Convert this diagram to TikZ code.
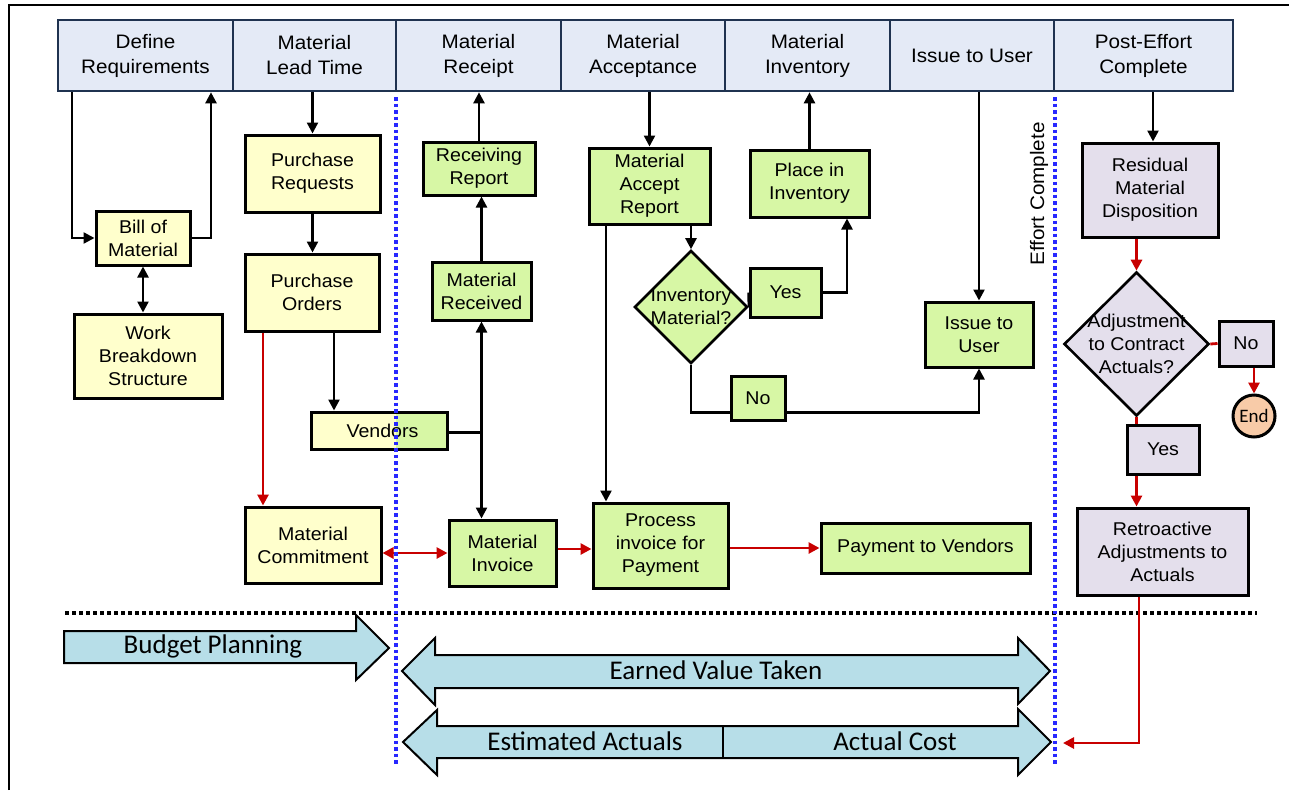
\documentclass[tikz,border=0pt]{standalone}
\usepackage{fontspec}
\setmainfont{Liberation Sans}[FakeStretch=1.06]
\newfontfamily\calib{Carlito}
\usetikzlibrary{arrows.meta,shapes.geometric,calc}

\definecolor{hdrfill}{RGB}{228,234,246}
\definecolor{hdrline}{RGB}{31,50,80}
\definecolor{yfill}{RGB}{255,255,204}
\definecolor{gfill}{RGB}{215,247,165}
\definecolor{pfill}{RGB}{228,223,236}
\definecolor{afill}{RGB}{183,222,232}
\definecolor{endfill}{RGB}{248,203,168}
\definecolor{flowred}{RGB}{200,0,0}
\definecolor{sepblue}{RGB}{40,40,255}

\begin{document}
\begin{tikzpicture}[x=1pt,y=-1pt,
  hdr/.style={draw=hdrline, fill=hdrfill, line width=2.6pt, minimum height=71pt,
    align=center, inner sep=0pt, font=\fontsize{19.5}{25}\selectfont},
  box/.style={draw, line width=3pt, align=center, inner sep=0pt,
    font=\fontsize{18.5}{23}\selectfont},
  ybox/.style={box, fill=yfill},
  gbox/.style={box, fill=gfill},
  pbox/.style={box, fill=pfill},
  decision/.style={diamond, draw, line width=2.6pt, inner sep=0pt},
  dtext/.style={align=center, font=\fontsize{18.5}{23}\selectfont},
  conn/.style={line width=2.4pt, -{Triangle[length=11pt,width=11pt]}},
  both/.style={line width=2.4pt, {Triangle[length=11pt,width=11pt]}-{Triangle[length=11pt,width=11pt]}},
  link/.style={line width=2.4pt},
  rconn/.style={conn, draw=flowred, line width=2.8pt},
  rboth/.style={both, draw=flowred, line width=2.8pt},
  rlink/.style={link, draw=flowred, line width=2.8pt},
  bigarrow/.style={draw, fill=afill, line width=2pt, line join=miter},
  bigtext/.style={font=\calib\fontsize{27}{30}\selectfont},
  phase/.style={sepblue, line width=3.6pt, dash pattern=on 3.5pt off 3pt},
  split/.style={black, line width=3.4pt, dash pattern=on 3.5pt off 3.5pt}
]
\useasboundingbox (0,0) rectangle (1289,790);

% outer frame
\draw[line width=2.6pt] (9,790) -- (9,5) -- (1289,5);

% phase headers
\node[hdr, minimum width=175pt] (hdr1) at (145.5,55.5) {Define\\Requirements};
\node[hdr, minimum width=163pt] (hdr2) at (314.5,55.5) {Material\\Lead Time};
\node[hdr, minimum width=165pt] (hdr3) at (478.5,55.5) {Material\\Receipt};
\node[hdr, minimum width=164pt] (hdr4) at (643,55.5) {Material\\Acceptance};
\node[hdr, minimum width=165pt] (hdr5) at (807.5,55.5) {Material\\Inventory};
\node[hdr, minimum width=164pt] (hdr6) at (972,55.5) {Issue to User};
\node[hdr, minimum width=179pt] (hdr7) at (1143.5,55.5) {Post-Effort\\Complete};

% planning boxes
\node[ybox, minimum width=94pt, minimum height=54pt] (bom) at (143,238) {Bill of\\Material};
\node[ybox, minimum width=148pt, minimum height=84pt] (wbs) at (148,356) {Work\\Breakdown\\Structure};
\node[ybox, minimum width=135pt, minimum height=77pt] (preq) at (312.5,173.5) {Purchase\\Requests};
\node[ybox, minimum width=134pt, minimum height=77pt] (pord) at (312,292.5) {Purchase\\Orders};
\node[box, minimum width=136pt, minimum height=37pt, fill=yfill,
  path picture={\fill[gfill] ($(path picture bounding box.north west)!0.625!(path picture bounding box.north east)$)
    rectangle (path picture bounding box.south east);}] (vend) at (379,430.5) {\hspace{7pt}Vendors};
\node[ybox, minimum width=136pt, minimum height=76pt] (mcom) at (313,545) {Material\\Commitment};

% receipt and acceptance
\node[gbox, minimum width=112pt, minimum height=53pt] (rrep) at (479,168.5) {Receiving\\Report};
\node[gbox, minimum width=99pt, minimum height=58pt] (mrec) at (481.5,291) {Material\\Received};
\node[gbox, minimum width=107pt, minimum height=66pt] (minv) at (502.5,553) {Material\\Invoice};
\node[gbox, minimum width=121pt, minimum height=76pt] (mar) at (649.5,186) {Material\\Accept\\Report};
\node[decision, fill=gfill, minimum width=113pt, minimum height=113pt,
  label={[dtext]center:{Inventory\\Material?}}] (invq) at (691,307) {};
\node[gbox, minimum width=71pt, minimum height=49pt] (yes1) at (785.5,292.5) {Yes};
\node[gbox, minimum width=54pt, minimum height=44pt] (no1) at (758,398) {No};
\node[gbox, minimum width=119pt, minimum height=67pt] (pinv) at (809.5,183.5) {Place in\\Inventory};
\node[gbox, minimum width=108pt, minimum height=65pt] (iuser) at (979,334.5) {Issue to\\User};
\node[gbox, minimum width=135pt, minimum height=85pt] (pinvc) at (660.5,545.5) {Process\\invoice for\\Payment};
\node[gbox, minimum width=209pt, minimum height=50pt] (pay) at (925.5,548) {Payment to Vendors};

% post-effort
\node[pbox, minimum width=136pt, minimum height=94pt] (resid) at (1150,190) {Residual\\Material\\Disposition};
\node[decision, fill=pfill, minimum width=145pt, minimum height=144pt,
  label={[dtext]center:{Adjustment\\to Contract\\Actuals?}}] (adjq) at (1136.5,344) {};
\node[pbox, minimum width=54pt, minimum height=45pt] (no2) at (1246,343.5) {No};
\node[circle, draw, line width=3pt, fill=endfill, minimum size=42pt, inner sep=0pt,
  font=\calib\fontsize{19}{20}\selectfont] (endc) at (1254,416) {End};
\node[pbox, minimum width=72pt, minimum height=49pt] (yes2) at (1163,449.5) {Yes};
\node[pbox, minimum width=171pt, minimum height=87pt] (retro) at (1162.5,551.5) {Retroactive\\Adjustments to\\Actuals};

\node[rotate=90, font=\fontsize{19.5}{22}\selectfont] (effort) at (1039,194) {Effort Complete};

% budget / value band
\draw[split] (65,613) -- (1257,613);
\draw[bigarrow] (64,631) -- (356,631) -- (356,615) -- (389,648) -- (356,680) -- (356,663) -- (64,663) -- cycle;
\node[bigtext] (budget) at (213,646) {Budget Planning};
\draw[bigarrow] (402,671) -- (435,638) -- (435,655) -- (1018,655) -- (1018,638) -- (1050,671)
  -- (1018,704) -- (1018,688) -- (435,688) -- (435,705) -- cycle;
\node[bigtext] (earned) at (716,670) {Earned Value Taken};
\draw[bigarrow] (403,742) -- (437,710) -- (437,726) -- (1018,726) -- (1018,709) -- (1051,742)
  -- (1018,775) -- (1018,758) -- (437,758) -- (437,775) -- cycle;
\draw[line width=2.4pt] (723,726) -- (723,758);
\node[bigtext] (estact) at (585,741) {Estimated Actuals};
\node[bigtext] (actcost) at (895,741) {Actual Cost};
\coordinate (actip) at (1063,743);

% connectors: define requirements
\draw[conn] ([xshift=15]hdr1.south west) |- (bom.west);
\draw[conn] (bom.east) -| ([xshift=65.5]hdr1.south);
\draw[both] (bom.south) -- (bom.south |- wbs.north);

% connectors: lead time
\draw[conn] (hdr2.south -| preq.north) -- (preq.north);
\draw[conn] (preq.south) -- (preq.south |- pord.north);
\draw[conn] ([xshift=22]pord.south) -- ([xshift=22]pord.south |- vend.north);
\draw[rconn] ([xshift=-49]pord.south) -- ([xshift=-49]pord.south |- mcom.north);

% connectors: receipt
\draw[link] ([yshift=-2]vend.east) -- ([yshift=-2]vend.east -| mrec.south);
\draw[both] (mrec.south) -- (mrec.south |- minv.north);
\draw[conn] (mrec.north) -- (mrec.north |- rrep.south);
\draw[conn] (rrep.north) -- (rrep.north |- hdr3.south);
\draw[rboth] (mcom.east |- minv.west) -- (minv.west);
\draw[rconn] ([yshift=4]minv.east) -- ([yshift=4]minv.east -| pinvc.west);
\draw[rconn] (pinvc.east |- pay.west) -- (pay.west);

% connectors: acceptance and inventory
\draw[conn] (hdr4.south -| mar.north) -- (mar.north);
\draw[conn] ([xshift=-43.5]mar.south) -- ([xshift=-43.5]mar.south |- pinvc.north);
\draw[conn] (mar.south -| invq.north) -- (invq.north);
\draw[link] (invq.east) -- (yes1.west);
\draw[conn] (yes1.east) -| ([xshift=37.5]pinv.south);
\draw[conn] (pinv.north) -- (pinv.north |- hdr5.south);
\draw[link] (invq.south) |- ([yshift=-14.5]no1.west);
\draw[conn] ([yshift=-14.5]no1.east) -| (iuser.south);
\draw[conn] (hdr6.south -| iuser.north) -- (iuser.north);

% connectors: post-effort
\draw[conn] ([xshift=9.5]hdr7.south) -- ([xshift=9.5]hdr7.south |- resid.north);
\draw[rconn] (resid.south -| adjq.north) -- (adjq.north);
\draw[rlink] (adjq.east) -- (no2.west);
\draw[rconn] (no2.south -| endc.north) -- (endc.north);
\draw[rlink] (adjq.south) -- (adjq.south |- yes2.north);
\draw[rconn] (adjq.south |- yes2.south) -- (adjq.south |- retro.north);
\draw[rconn] ([xshift=-23.5]retro.south) |- (actip);

% phase boundaries
\draw[phase] (396,97) -- (396,765);
\draw[phase] (1055,97) -- (1055,765);
\end{tikzpicture}
\end{document}
